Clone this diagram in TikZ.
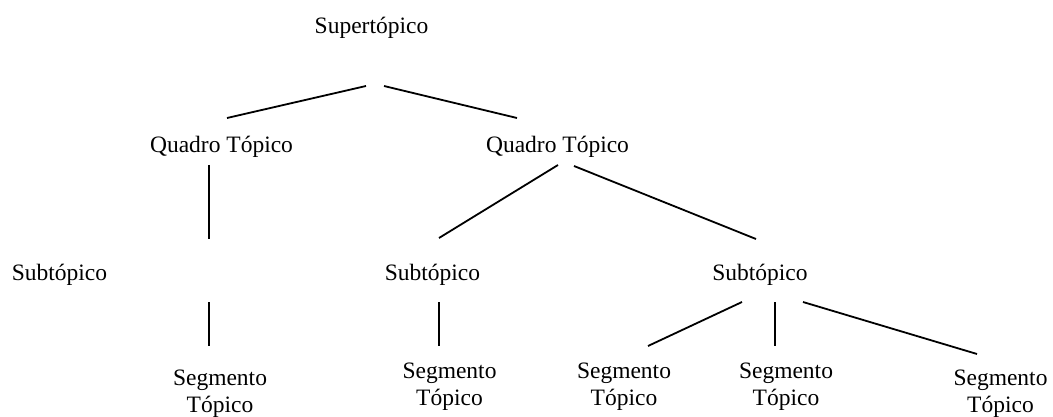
\documentclass[tikz,border=0pt]{standalone}
\usepackage{fontspec}
\setmainfont{Liberation Serif}
\begin{document}
\begin{tikzpicture}[x=1pt,y=-1pt,
  lbl/.style={inner sep=0pt,anchor=base,font=\fontsize{23.5}{27}\selectfont},
  seg/.style={lbl,align=center},
  conn/.style={line width=1.8pt}]
\useasboundingbox (0,0) rectangle (1053,417);
% labels
\node[lbl] (super) at (371.5,33.5) {Supertópico};
\node[lbl] (q1) at (221.5,152.5) {Quadro Tópico};
\node[lbl] (q2) at (557.5,152.5) {Quadro Tópico};
\node[lbl] (sub1) at (59.5,280.5) {Subtópico};
\node[lbl] (sub2) at (432.5,280.5) {Subtópico};
\node[lbl] (sub3) at (760,280.5) {Subtópico};
\node[seg] (seg1) at (220,412) {Segmento\\Tópico};
\node[seg] (seg2) at (449.5,405) {Segmento\\Tópico};
\node[seg] (seg3) at (624,405) {Segmento\\Tópico};
\node[seg] (seg4) at (786,405) {Segmento\\Tópico};
\node[seg] (seg5) at (1000.5,412) {Segmento\\Tópico};
% connector end points
\coordinate (super-l) at (366,86);
\coordinate (super-r) at (384,86);
\coordinate (q1-t) at (227,118);
\coordinate (q2-t) at (517,118);
\coordinate (q1-b) at (209,165);
\coordinate (gap-t) at (209,239);
\coordinate (gap-b) at (209,302);
\coordinate (seg1-t) at (209,346);
\coordinate (q2-bl) at (558,165);
\coordinate (q2-br) at (574,166);
\coordinate (sub2-t) at (439,238);
\coordinate (sub3-t) at (756,239);
\coordinate (sub2-b) at (439,302);
\coordinate (seg2-t) at (439,346);
\coordinate (sub3-bl) at (742,302);
\coordinate (sub3-bm) at (775,302);
\coordinate (sub3-br) at (803,302);
\coordinate (seg3-t) at (648,346);
\coordinate (seg4-t) at (775,346);
\coordinate (seg5-t) at (977,354);
% connectors
\draw[conn] (super-l) -- (q1-t);
\draw[conn] (super-r) -- (q2-t);
\draw[conn] (q1-b) -- (gap-t);
\draw[conn] (gap-b) -- (seg1-t);
\draw[conn] (q2-bl) -- (sub2-t);
\draw[conn] (q2-br) -- (sub3-t);
\draw[conn] (sub2-b) -- (seg2-t);
\draw[conn] (sub3-bl) -- (seg3-t);
\draw[conn] (sub3-bm) -- (seg4-t);
\draw[conn] (sub3-br) -- (seg5-t);
\end{tikzpicture}
\end{document}
